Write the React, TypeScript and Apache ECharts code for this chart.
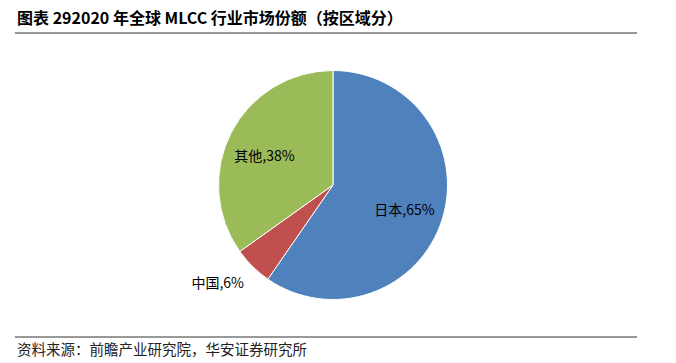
import React, { useEffect, useRef } from "react";
import * as echarts from "echarts";

const categories = ["日本", "中国", "其他"];
const values = [65, 6, 38];
const colors = ["#4F81BD", "#C0504D", "#9BBB59"];
const labelOffsets = [
  [14, 6],
  [-73, 54],
  [-15, -2],
];
const titleText = "图表 292020 年全球 MLCC 行业市场份额（按区域分）";
const sourceText = "资料来源：前瞻产业研究院，华安证券研究所";

export default function App() {
  const ref = useRef<HTMLDivElement>(null);
  useEffect(() => {
    document.body.style.margin = "0";
    const chart = echarts.init(ref.current!, null, { renderer: "svg" });
    const font = '"Noto Sans CJK SC", "Noto Sans", sans-serif';
    chart.setOption({
      animation: false,
      backgroundColor: "#ffffff",
      graphic: [
        {
          type: "text",
          left: 17,
          top: 9,
          style: { text: titleText, font: `bold 16px ${font}`, fill: "#000" },
        },
        {
          type: "line",
          shape: { x1: 15, y1: 33, x2: 637, y2: 33 },
          style: { stroke: "#333", lineWidth: 1 },
        },
        {
          type: "line",
          shape: { x1: 15, y1: 337, x2: 637, y2: 337 },
          style: { stroke: "#333", lineWidth: 1 },
        },
        {
          type: "text",
          left: 17,
          top: 341,
          style: { text: sourceText, font: `14.5px ${font}`, fill: "#222" },
        },
      ],
      series: [
        {
          type: "pie",
          center: [333, 185],
          radius: [0, 114.5],
          startAngle: 90,
          clockwise: true,
          silent: true,
          itemStyle: { borderColor: "#fff", borderWidth: 1 },
          label: {
            show: true,
            position: "inside",
            color: "#000",
            fontSize: 14,
            fontFamily: font,
          },
          labelLine: { show: false },
          data: categories.map((name, i) => ({
            name,
            value: values[i],
            itemStyle: { color: colors[i] },
            label: {
              offset: labelOffsets[i],
              formatter: `{b},${values[i]}%`,
            },
          })),
        },
      ],
    });
    return () => chart.dispose();
  }, []);
  return <div ref={ref} style={{ width: 676, height: 363 }} />;
}
